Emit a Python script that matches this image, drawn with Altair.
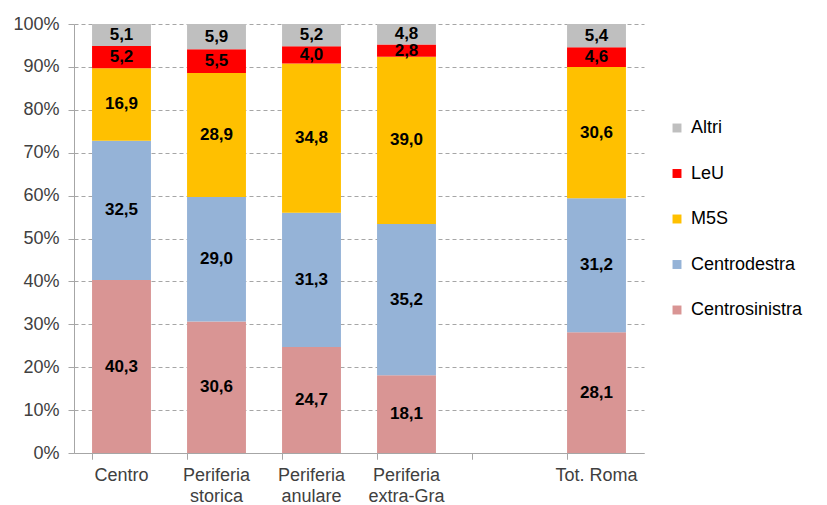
import altair as alt
import pandas as pd

categories = ["Centro", "Periferia|storica", "Periferia|anulare", "Periferia|extra-Gra", "Tot. Roma"]
x_domain = ["Centro", "Periferia|storica", "Periferia|anulare", "Periferia|extra-Gra", " ", "Tot. Roma"]
series = ["Centrosinistra", "Centrodestra", "M5S", "LeU", "Altri"]
colors = ["#D99594", "#95B3D7", "#FFC000", "#FF0000", "#BFBFBF"]

centrosinistra = [40.3, 30.6, 24.7, 18.1, 28.1]
centrodestra = [32.5, 29.0, 31.3, 35.2, 31.2]
m5s = [16.9, 28.9, 34.8, 39.0, 30.6]
leu = [5.2, 5.5, 4.0, 2.8, 4.6]
altri = [5.1, 5.9, 5.2, 4.8, 5.4]

values = [centrosinistra, centrodestra, m5s, leu, altri]
rows = []
for si, s in enumerate(series):
    for ci, c in enumerate(categories):
        rows.append({"cat": c, "serie": s, "ord": si, "value": values[si][ci]})
df = pd.DataFrame(rows)

FONT = "Liberation Sans"

x_scale = alt.Scale(domain=x_domain, paddingInner=0.38, paddingOuter=0.19)
y_scale = alt.Scale(domain=[0, 1])

base = alt.Chart(df).transform_stack(
    stack="value", groupby=["cat"], as_=["y0", "y1"], offset="normalize",
    sort=[alt.SortField("ord", order="ascending")]
).transform_calculate(
    mid="(datum.y0 + datum.y1) / 2",
    lab="replace(format(datum.value, '.1f'), '.', ',')"
)

legend_order = ["Altri", "LeU", "M5S", "Centrodestra", "Centrosinistra"]

y_axis = alt.Axis(values=[i / 10 for i in range(11)], format=".0%",
                  gridDash=[4, 3], gridColor="#A6A6A6", domainColor="#A6A6A6",
                  tickColor="#A6A6A6", tickSize=6, labelFontSize=18,
                  labelColor="#404040", labelFont=FONT, labelPadding=9)

tick_axis = alt.Axis(orient="bottom", bandPosition=0, labels=False, ticks=True, tickSize=6,
                     tickColor="#A6A6A6", domain=False, grid=False)

bars = base.mark_bar(stroke=None).encode(
    x=alt.X("cat:N", scale=x_scale, sort=x_domain, title=None,
            axis=alt.Axis(orient="bottom", labelExpr="split(datum.label, '|')", ticks=False,
                          labelFontSize=18, labelColor="#404040", labelFont=FONT,
                          labelPadding=13, labelAngle=0, domain=True,
                          domainColor="#A6A6A6", labelLineHeight=21)),
    y=alt.Y("y0:Q", scale=y_scale, title=None, axis=y_axis),
    y2="y1:Q",
    color=alt.Color("serie:N", scale=alt.Scale(domain=series, range=colors),
                    sort=legend_order,
                    legend=alt.Legend(title=None, orient="none", legendX=594, legendY=95,
                                      symbolType="square", symbolSize=80,
                                      labelFontSize=18, labelFont=FONT, labelColor="#000000",
                                      rowPadding=27.5, symbolStrokeWidth=0, labelOffset=5,
                                      values=legend_order)),
)

ticks_layer = base.mark_bar(opacity=0).encode(
    x=alt.X("cat:N", scale=x_scale, sort=x_domain, title=None, axis=tick_axis),
    y=alt.Y("y0:Q", scale=y_scale, title=None, axis=y_axis),
    y2="y1:Q",
)

texts = base.mark_text(font=FONT, fontSize=17, fontWeight="bold", color="#000000").encode(
    x=alt.X("cat:N", scale=x_scale, sort=x_domain, title=None, axis=tick_axis),
    y=alt.Y("mid:Q", scale=y_scale, title=None, axis=y_axis),
    text="lab:N",
)

chart = alt.layer(bars, ticks_layer, texts).resolve_axis(x="independent").properties(
    width=570, height=429,
    padding={"left": 4, "top": 7, "right": 5, "bottom": 0}
).configure_view(stroke=None).configure_axisY(
    grid=True, domain=True
).configure_axisX(grid=False)

chart.save("out.html", embed_options={"renderer": "svg", "actions": False})
